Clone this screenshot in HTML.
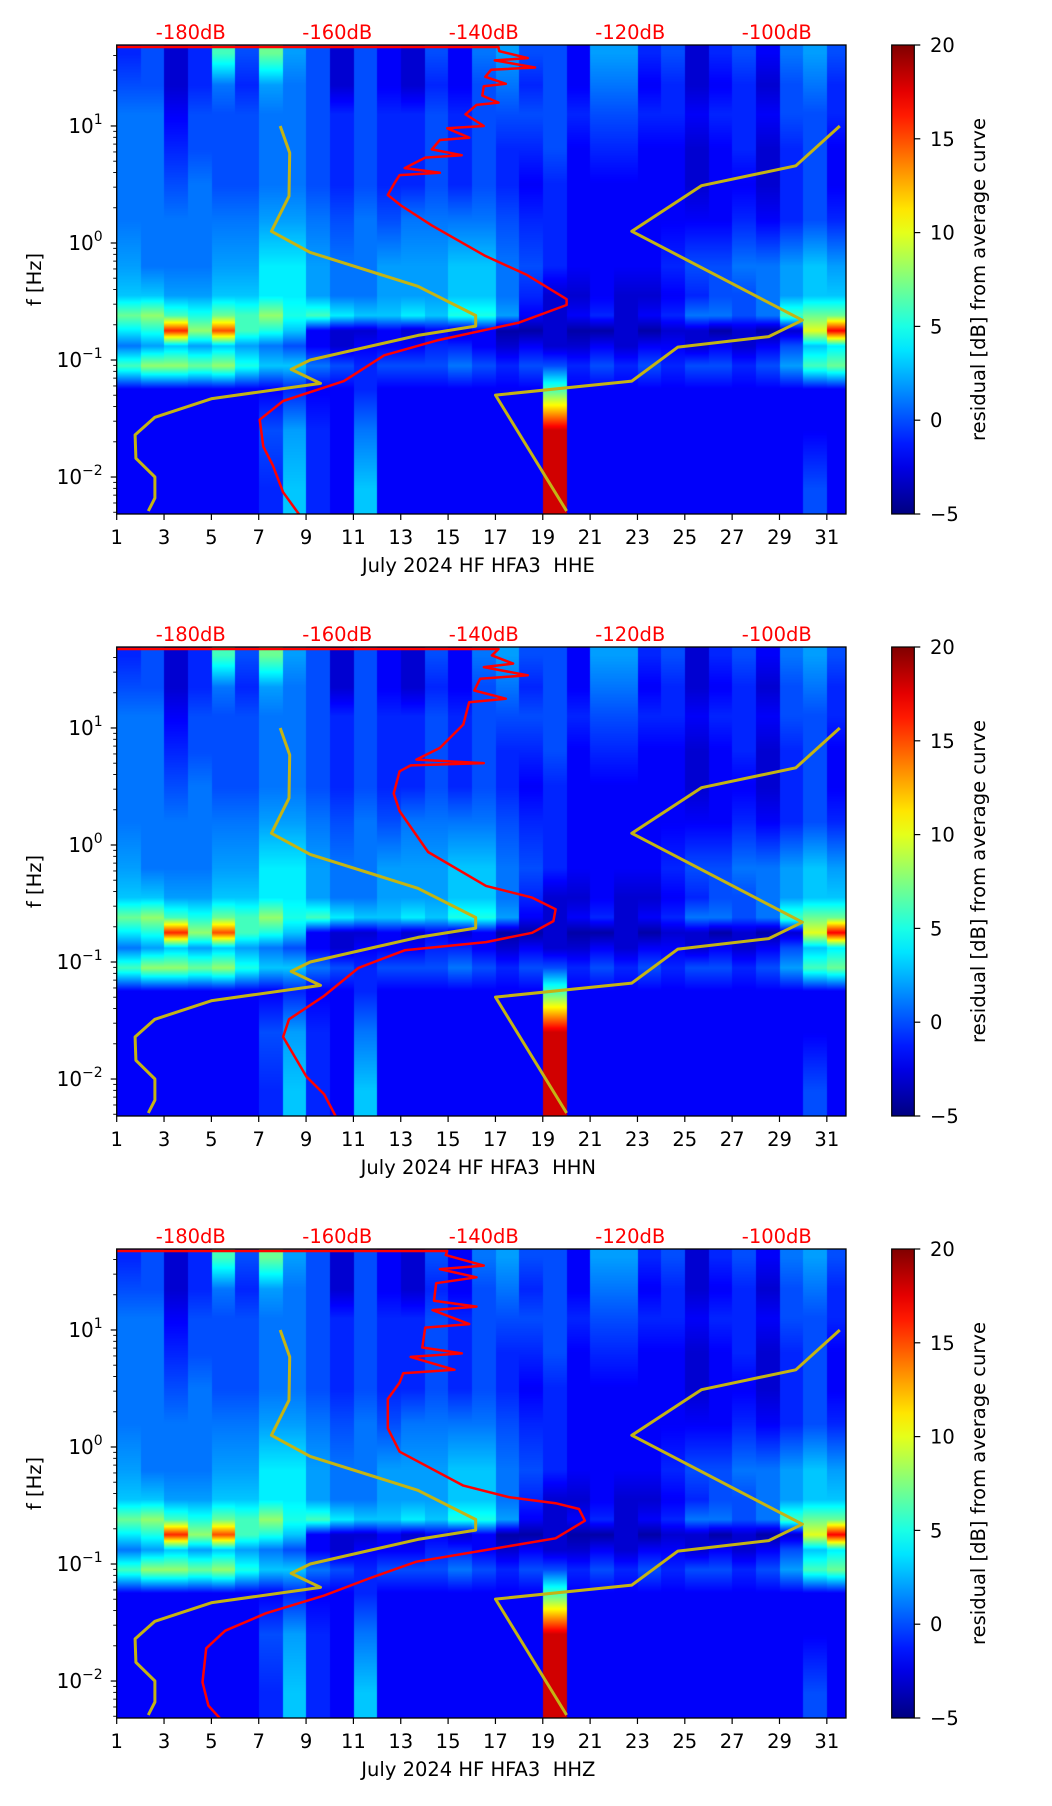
<!DOCTYPE html>
<html><head><meta charset="utf-8">
<style>
html,body{margin:0;padding:0;background:#fff;width:1052px;height:1806px;overflow:hidden}
canvas{position:absolute}
svg{position:absolute;left:0;top:0}
text{font-family:"DejaVu Sans","Liberation Sans",sans-serif}
</style></head>
<body>
<div id="root"></div>
<script>
// ---------- data ----------
const channels = ["HHE","HHN","HHZ"];
const xTickDays = [1,3,5,7,9,11,13,15,17,19,21,23,25,27,29,31];
const yTickExp = [1,0,-1,-2];
const cbTicks = [-5,0,5,10,15,20];
const topDbTicks = [-180,-160,-140,-120,-100];
// heatmap rows (log10 f) and residual values per day (day 1..31)
const gridLogF = [1.62,1.35,1.1,0.8,0.5,0.2,-0.2,-0.45,-0.62,-0.75,-0.88,-1.05,-1.25,-1.6,-2.1];
const gridVals = [
[-1,0,-3,-1,6,0,7,2,0,-3,0,-2,-3,0,-2,1,2,0,0,-2,2,2,-1,0,-3,-1,0,-2,1,2,0],
[0,0,-3,-1,1,-1,2,1,0,-3,0,-2,-3,-1,-2,0,1,-1,0,-2,1,1,-2,-1,-3,-2,-1,-3,0,1,-1],
[1,1,-2,0,0,0,1,1,0,-1,0,-1,-1,0,-1,0,0,0,0,-1,0,0,-1,-1,-2,-1,-1,-2,0,0,-1],
[1,1,-1,0,0,0,1,1,0,-1,0,-1,-1,0,-1,0,-1,-1,0,-2,-1,-1,-2,-2,-3,-2,-1,-3,-1,0,-2],
[1,1,0,1,0,0,1,1,0,-1,0,-1,-1,0,-1,0,-1,-2,-1,-2,-2,-2,-2,-2,-3,-2,-2,-3,-1,0,-2],
[1,1,1,1,1,1,2,2,1,0,1,0,1,1,1,1,0,-1,-1,-2,-2,-2,-2,-2,-2,-2,-1,-2,-1,0,-1],
[2,1,1,1,2,2,4,4,2,1,1,2,2,2,3,3,1,0,-1,-2,-2,-2,-2,-1,0,0,1,1,2,3,2],
[3,3,2,2,3,3,4,4,2,1,1,2,2,2,3,3,1,-1,-3,-3,-2,-3,-3,-2,-1,0,0,1,2,3,3],
[7,8,6,5,7,6,8,5,6,4,3,3,4,3,5,5,2,-2,-3,-2,-1,-3,-2,-1,1,1,0,1,6,7,7],
[4,5,16,8,15,6,5,3,-2,-3,-3,-2,-3,-2,-3,-2,-4,-4,-3,-4,-4,-3,-4,-3,-3,-4,-3,-4,-3,10,17],
[1,2,3,2,3,2,1,0,-2,-3,-2,-2,-2,-1,-1,-2,-3,-2,-3,-3,-2,-3,-2,-2,-3,-2,-3,-2,0,3,4],
[6,8,8,7,8,5,3,3,1,0,-1,0,0,0,1,0,-1,0,0,-1,0,-1,0,-1,0,0,-1,0,2,6,7],
[-2,-2,-2,-2,-2,-2,-2,-1,-2,-2,-1,-2,-2,-2,-2,-2,-2,-2,6,-2,-2,-2,-2,-2,-2,-2,-2,-2,-2,-2,-2],
[-2,-2,-2,-2,-2,-2,0,2,-1,-2,1,-2,-2,-2,-2,-2,-2,-2,18,-2,-2,-2,-2,-2,-2,-2,-2,-2,-2,-2,-2],
[-2,-2,-2,-2,-2,-2,-1,3,-1,-2,3,-2,-2,-2,-2,-2,-2,-2,18,-2,-2,-2,-2,-2,-2,-2,-2,-2,-2,0,-2]
];
// noise models (dB, log10 f)
const lowDb = [-167.8,-166.5,-166.6,-169.0,-163.7,-149.0,-141.1,-141.1,-149.0,-163.7,-166.3,-162.3,-177.1,-184.9,-187.6,-187.5,-184.9,-184.9,-185.8];
const lowLogF = [1.0,0.77,0.40,0.10,-0.08,-0.37,-0.62,-0.71,-0.79,-1.0,-1.08,-1.20,-1.33,-1.49,-1.64,-1.84,-2.0,-2.18,-2.29];
const highDb = [-91.4,-97.4,-110.3,-119.8,-96.5,-101.1,-113.5,-119.8,-138.4,-128.7];
const highLogF = [1.0,0.66,0.49,0.10,-0.66,-0.80,-0.89,-1.18,-1.30,-2.29];
// average curves per channel
const avgHHE_Db = [-200,-138,-137.9,-134,-138.5,-133,-139,-139.8,-137,-140,-140.2,-138,-141,-142.5,-140,-145,-142,-146,-147.1,-143,-148,-150.8,-146,-151.5,-152.2,-153.1,-151.3,-147.1,-139.8,-134.2,-128.7,-128.7,-135.2,-146.2,-153.6,-159.1,-167.4,-170.6,-170.1,-168.8,-167.4,-165.2];
const avgHHE_LogF = [1.675,1.675,1.64,1.58,1.56,1.50,1.48,1.42,1.36,1.34,1.26,1.2,1.18,1.10,1.0,0.98,0.90,0.88,0.80,0.75,0.73,0.64,0.60,0.58,0.51,0.41,0.32,0.15,-0.11,-0.27,-0.48,-0.53,-0.68,-0.83,-0.96,-1.18,-1.35,-1.51,-1.74,-1.90,-2.13,-2.32];
const avgHHN_Db = [-200,-138,-138.9,-136,-140,-134,-140.5,-141.3,-137,-142,-142.8,-146,-149.2,-140,-150,-151.5,-152.3,-151.5,-147.6,-139.7,-133.4,-130.2,-130.5,-133.4,-139.7,-150.8,-157.1,-161.8,-166.6,-167.4,-164.2,-161.8,-160.2];
const avgHHN_LogF = [1.675,1.675,1.62,1.55,1.52,1.45,1.42,1.32,1.25,1.22,1.03,0.83,0.73,0.70,0.68,0.63,0.44,0.29,-0.06,-0.35,-0.45,-0.55,-0.65,-0.75,-0.83,-0.90,-1.05,-1.29,-1.49,-1.64,-1.98,-2.13,-2.32];
const avgHHZ_Db = [-200,-145,-145.2,-140,-146,-141,-146.5,-146.8,-141,-147,-142,-148,-148.4,-143,-150,-144,-151,-151.5,-153.1,-153.1,-151.5,-142.8,-136.5,-130.2,-127,-126.2,-130.2,-139.7,-149.2,-155.5,-161.8,-169.7,-175.3,-177.9,-178.4,-177.6,-176];
const avgHHZ_LogF = [1.675,1.675,1.64,1.55,1.52,1.45,1.40,1.25,1.2,1.17,1.05,1.02,0.85,0.8,0.77,0.66,0.63,0.55,0.41,0.16,-0.04,-0.33,-0.43,-0.48,-0.53,-0.63,-0.78,-0.88,-0.98,-1.12,-1.27,-1.42,-1.57,-1.72,-2.01,-2.21,-2.32];

// ---------- layout ----------
const L=116.7, R=846, H=469, tops=[45,647,1249];
const dayMin=1, dayMax=31.81, lfTop=1.692, lfBot=-2.316;
const cbL=891.7, cbR=914.3;
const xDay=d=>L+(d-dayMin)/(dayMax-dayMin)*(R-L);
const yLF=(lf,t)=>t+(lfTop-lf)/(lfTop-lfBot)*H;
const xDb=db=>190.8+(db+180)*7.325;
function jet(v){const t=Math.max(0,Math.min(1,(v+5)/25));const c=x=>Math.round(255*Math.max(0,Math.min(1,x)));return [c(1.5-Math.abs(4*t-3)),c(1.5-Math.abs(4*t-2)),c(1.5-Math.abs(4*t-1))];}
function gridAt(lf,col){
  if(lf>=gridLogF[0]) return gridVals[0][col];
  const n=gridLogF.length;
  if(lf<=gridLogF[n-1]) return gridVals[n-1][col];
  for(let i=0;i<n-1;i++){ if(lf<=gridLogF[i]&&lf>=gridLogF[i+1]){const f=(gridLogF[i]-lf)/(gridLogF[i]-gridLogF[i+1]);return gridVals[i][col]*(1-f)+gridVals[i+1][col]*f;} }
  return 0;
}
const root=document.getElementById('root');
const NS="http://www.w3.org/2000/svg";
const svg=document.createElementNS(NS,'svg');
svg.setAttribute('width','1052');svg.setAttribute('height','1806');


function mk(tag,attrs,parent){const e=document.createElementNS(NS,tag);for(const k in attrs)e.setAttribute(k,attrs[k]);(parent||svg).appendChild(e);return e;}
const defs=mk('defs',{});
const grad=mk('linearGradient',{id:'jetg',x1:'0',y1:'1',x2:'0',y2:'0'},defs);
for(let i=0;i<=20;i++){const v=-5+25*i/20;const c=jet(v);mk('stop',{offset:(i/20).toString(),'stop-color':`rgb(${c[0]},${c[1]},${c[2]})`},grad);}

const avgDb=[avgHHE_Db,avgHHN_Db,avgHHZ_Db], avgLF=[avgHHE_LogF,avgHHN_LogF,avgHHZ_LogF];

tops.forEach((T,p)=>{
  const cv=document.createElement('canvas');
  const W=Math.round(R-L);
  cv.width=W;cv.height=H;cv.style.left=L+'px';cv.style.top=T+'px';
  
  
  const ctx=cv.getContext('2d');const img=ctx.createImageData(W,H);
  for(let y=0;y<H;y++){const lf=lfTop-(y+0.5)/H*(lfTop-lfBot);
    for(let x=0;x<W;x++){const d=dayMin+(x+0.5)/W*(dayMax-dayMin);const col=Math.min(30,Math.max(0,Math.floor(d-1)));
      const c=jet(gridAt(lf,col));const k=(y*W+x)*4;img.data[k]=c[0];img.data[k+1]=c[1];img.data[k+2]=c[2];img.data[k+3]=255;}}
  ctx.putImageData(img,0,0);
  root.appendChild(cv);

  const g=mk('g',{});
  const cid='clip'+p;
  const cp=mk('clipPath',{id:cid},defs);mk('rect',{x:L,y:T,width:R-L,height:H},cp);
  const cg=mk('g',{'clip-path':`url(#${cid})`},g);
  const line=(dbs,lfs,color,w,name)=>{const pts=dbs.map((db,i)=>xDb(db).toFixed(1)+','+yLF(lfs[i],T).toFixed(1)).join(' ');
    const e=mk('polyline',{points:pts,fill:'none',stroke:color,'stroke-width':w,'stroke-linejoin':'round'},cg);
    
    };
  line(lowDb,lowLogF,'#c4b414',3,'low-noise-model');
  line(highDb,highLogF,'#c4b414',3,'high-noise-model');
  line(avgDb[p],avgLF[p],'#ff0000',2.5,'average-curve');
  mk('rect',{x:L,y:T,width:R-L,height:H,fill:'none',stroke:'#000','stroke-width':1.3},g);
  xTickDays.forEach(d=>{const x=xDay(d);mk('line',{x1:x,y1:T+H,x2:x,y2:T+H+6,stroke:'#000','stroke-width':1.2},g);
    const t=mk('text',{x:x,y:T+H+30,'font-size':'19.5','text-anchor':'middle'},g);t.textContent=d;
    
    });
  for(let e=-3;e<=1;e++){for(let m=1;m<=9;m++){const lf=e+Math.log10(m);if(lf>lfTop||lf<lfBot)continue;const y=yLF(lf,T);
    mk('line',{x1:L-(m===1?6:3.5),y1:y,x2:L,y2:y,stroke:'#000','stroke-width':m===1?1.2:0.9},g);}}
  yTickExp.forEach(e=>{const y=yLF(e,T);const t=mk('text',{x:L-14,y:y+7,'font-size':'20','text-anchor':'end'},g);
    
    
    const a=mk('tspan',{},t);a.textContent='10';
    const b=mk('tspan',{dy:'-9','font-size':'14'},t);b.textContent=(e<0?'\u2212':'')+Math.abs(e);});
  topDbTicks.forEach(db=>{const t=mk('text',{x:xDb(db),y:T-6,'font-size':'19.5','text-anchor':'middle',fill:'#ff0000'},g);t.textContent=db+'dB';
    
    });
  const yl=mk('text',{x:0,y:0,'font-size':'19.5','text-anchor':'middle',transform:`translate(41,${T+H/2}) rotate(-90)`},g);yl.textContent='f [Hz]';
  
  
  const xl=mk('text',{x:(L+R)/2-3,y:T+H+58,'font-size':'19.5','text-anchor':'middle'},g);xl.textContent='July 2024 HF HFA3  '+channels[p];
  xl.style.whiteSpace='pre';
  
  
  const cb=mk('g',{},g);
  
  
  mk('rect',{x:cbL,y:T,width:cbR-cbL,height:H,fill:'url(#jetg)',stroke:'#000','stroke-width':1.2},cb);
  cbTicks.forEach(v=>{const y=T+H-(v+5)/25*H;mk('line',{x1:cbR,y1:y,x2:cbR+6,y2:y,stroke:'#000','stroke-width':1.2},cb);
    const t=mk('text',{x:930,y:y+7,'font-size':'19.5'},cb);t.textContent=(v<0?'\u2212':'')+Math.abs(v);
    
    });
  const cl=mk('text',{x:0,y:0,'font-size':'19.5','text-anchor':'middle',transform:`translate(985,${T+H/2}) rotate(-90)`},cb);cl.textContent='residual [dB] from average curve';
  
  
});
root.appendChild(svg);
</script>
</body></html>
